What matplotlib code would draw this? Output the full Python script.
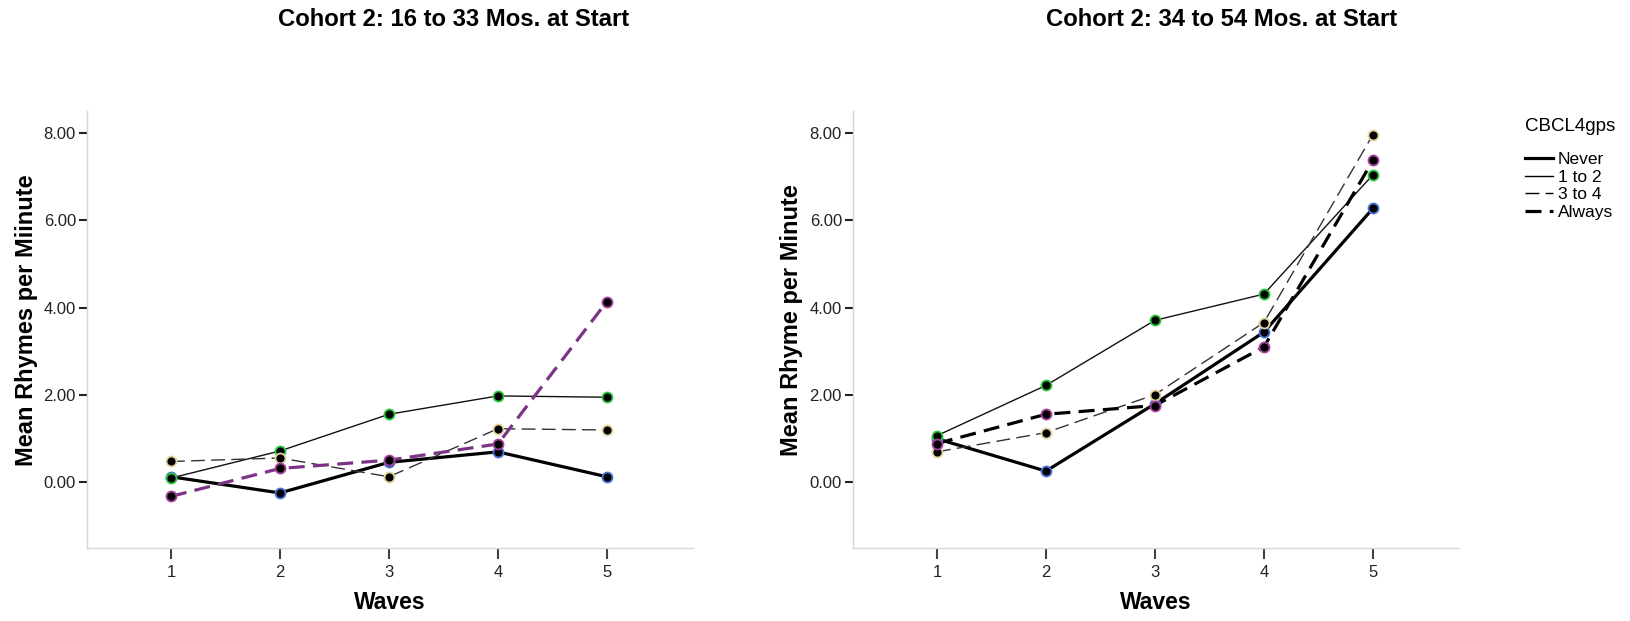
import matplotlib
matplotlib.use("Agg")
import matplotlib.pyplot as plt
from matplotlib.lines import Line2D

plt.rcParams['font.family'] = ['Liberation Sans', 'DejaVu Sans']

waves = [1, 2, 3, 4, 5]
groups = ["Never", "1 to 2", "3 to 4", "Always"]

left_never = [0.13, -0.24, 0.46, 0.70, 0.13]
left_1to2 = [0.10, 0.72, 1.56, 1.98, 1.95]
left_3to4 = [0.48, 0.56, 0.13, 1.23, 1.20]
left_always = [-0.32, 0.32, 0.51, 0.88, 4.14]

right_never = [1.00, 0.26, 1.80, 3.44, 6.27]
right_1to2 = [1.07, 2.22, 3.71, 4.31, 7.04]
right_3to4 = [0.70, 1.14, 2.01, 3.66, 7.96]
right_always = [0.89, 1.56, 1.76, 3.10, 7.37]

yticks = [0, 2, 4, 6, 8]
ytick_labels = ["0.00", "2.00", "4.00", "6.00", "8.00"]

titles = ["Cohort 2: 16 to 33 Mos. at Start", "Cohort 2: 34 to 54 Mos. at Start"]
ylabels = ["Mean Rhymes per Miinute", "Mean Rhyme per Minute"]
xlabel = "Waves"
legend_title = "CBCL4gps"

edge_colors = {"Never": "#4a72d8", "1 to 2": "#2cc53d", "3 to 4": "#e2d49c", "Always": "#a7419f"}
styles = {
    "Never": dict(lw=2.3, ls="-"),
    "1 to 2": dict(lw=1.0, ls="-"),
    "3 to 4": dict(lw=1.0, ls=(0, (10, 4.5))),
    "Always": dict(lw=2.3, ls=(0, (5, 2.6))),
}

W, H = 1631, 621
fig = plt.figure(figsize=(W / 100, H / 100), dpi=100)
ax_bottom = 548
ax_top = 111
ax_left = fig.add_axes([87 / W, 1 - ax_bottom / H, 606 / W, (ax_bottom - ax_top) / H])
ax_right = fig.add_axes([853 / W, 1 - ax_bottom / H, 606 / W, (ax_bottom - ax_top) / H])

data = [
    {"Never": left_never, "1 to 2": left_1to2, "3 to 4": left_3to4, "Always": left_always},
    {"Never": right_never, "1 to 2": right_1to2, "3 to 4": right_3to4, "Always": right_always},
]
line_colors = [
    {"Never": "black", "1 to 2": "#111111", "3 to 4": "#333333", "Always": "#7b3385"},
    {"Never": "black", "1 to 2": "#111111", "3 to 4": "#333333", "Always": "black"},
]

for i, ax in enumerate([ax_left, ax_right]):
    for g in groups:
        ax.plot(waves, data[i][g], color=line_colors[i][g], lw=styles[g]["lw"],
                ls=styles[g]["ls"], zorder=2, solid_capstyle="butt", dash_capstyle="butt")
    for g in groups:
        ax.plot(waves, data[i][g], ls="none", marker="o", ms=7.2, mfc="black",
                mec=edge_colors[g], mew=1.3, zorder=3)
    ax.set_xlim(0.23, 5.79)
    ax.set_ylim(-1.5, 8.5)
    ax.set_xticks(waves)
    ax.set_xticklabels([str(w) for w in waves], fontsize=12, color="#222222")
    ax.set_yticks(yticks)
    ax.set_yticklabels(ytick_labels, fontsize=12, color="#222222")
    for s in ["top", "right"]:
        ax.spines[s].set_visible(False)
    for s in ["left", "bottom"]:
        ax.spines[s].set_color("#d6d6d6")
        ax.spines[s].set_linewidth(1.0)
    ax.tick_params(axis="y", direction="out", length=6, width=1.5, color="#222222", pad=2)
    ax.tick_params(axis="x", direction="out", length=8, width=1.5, color="#444444", pad=4)
    ax.set_xlabel(xlabel, fontsize=16.5, fontweight="bold", labelpad=8)

fig.text(454 / W, 1 - 19 / H, titles[0], ha="center", va="center", fontsize=17.2, fontweight="bold")
fig.text(1222 / W, 1 - 19 / H, titles[1], ha="center", va="center", fontsize=17.2, fontweight="bold")
fig.text(27 / W, 1 - 320 / H, ylabels[0], rotation=90, ha="center", va="center", fontsize=17, fontweight="bold")
fig.text(792 / W, 1 - 320 / H, ylabels[1], rotation=90, ha="center", va="center", fontsize=17, fontweight="bold")

handles = [Line2D([], [], color="black", lw=styles[g]["lw"], ls=styles[g]["ls"]) for g in groups]
leg = fig.legend(handles, groups, loc="upper left", bbox_to_anchor=(1525 / W, 1 - 118 / H),
                 frameon=False, fontsize=12.5, title=legend_title, title_fontsize=13.5,
                 handlelength=1.6, handletextpad=0.3, labelspacing=0.15, alignment="left",
                 borderaxespad=0, borderpad=0)
leg._legend_box.sep = 12

fig.savefig("out.png", dpi=100)
